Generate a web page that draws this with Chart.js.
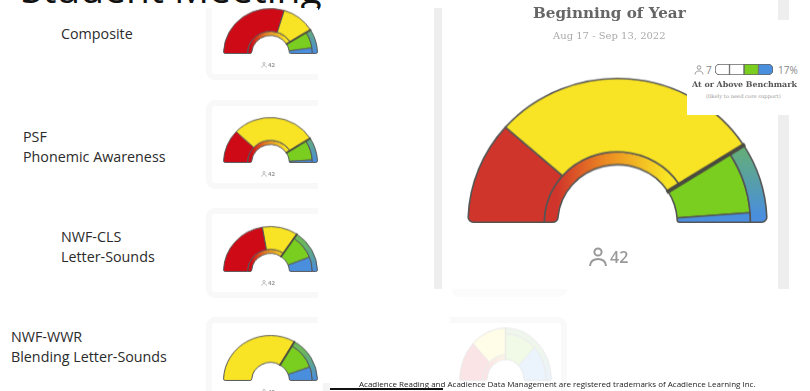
<!DOCTYPE html>
<html>
<head>
<meta charset="utf-8">
<script src="https://cdn.jsdelivr.net/npm/chart.js@4"></script>
<style>
    html, body { margin: 0; padding: 0; background: #fff; overflow: hidden; }
    #page { position: relative; width: 810px; height: 391px; overflow: hidden; font-family: 'Open Sans', sans-serif; color: #222; }
    .abs { position: absolute; white-space: nowrap; }
    .abs svg { display: block; }
    .card { position: absolute; box-sizing: border-box; background: #fff; border: 6px solid #f8f8f8; border-radius: 9px; }
    .label { font-size: 14.3px; line-height: 20px; color: #2b2b2b; }
    canvas { position: absolute; left: 0; top: 0; }
</style>
</head>
<body>
<div id="page"></div>
<script>
// Gauges in reading order: four small rows, the big one, the faded one
const gaugeNames = ['Composite', 'PSF', 'NWF-CLS', 'NWF-WWR', 'Beginning of Year', 'Faded'];
const redShare    = [59.5, 24, 44.5, 0, 23, 25];
const yellowShare = [23, 58, 24.5, 67, 59, 25];
const greenShare  = [13, 16, 19.3, 22, 15.6, 25];
const blueShare   = [4.5, 2, 11.7, 11, 2.4, 25];

const rowLabels = [['Composite'], ['PSF', 'Phonemic Awareness'], ['NWF-CLS', 'Letter-Sounds'], ['NWF-WWR', 'Blending Letter-Sounds']];
const studentCount = '42';
const legendSegments = [1, 1, 1, 1];
const legendColors = ['#ffffff', '#ffffff', '#7ace1f', '#4a8fde'];

// where each gauge goes: centre x, flat base y, radius, vertical squash
const gaugeBoxes = [
    { cx: 270, base: 53.5, r: 48, squash: 0.94, line: 1, sep: 1.8 },
    { cx: 270, base: 162.5, r: 48, squash: 0.94, line: 1, sep: 1.8 },
    { cx: 270, base: 271.5, r: 48, squash: 0.94, line: 1, sep: 1.8 },
    { cx: 270, base: 380.5, r: 48, squash: 0.94, line: 1, sep: 1.8 },
    { cx: 617.5, base: 222.5, r: 151, squash: 0.956, line: 1.6, sep: 4 },
    { cx: 505, base: 380, r: 47, squash: 1.12, line: 1, sep: 1.5 }
];

const page = document.getElementById('page');

function addBox(x, y, w, h, css) {
    const el = document.createElement('div');
    el.className = 'abs';
    el.style.cssText += `left:${x}px;top:${y}px;width:${w}px;height:${h}px;` + (css || '');
    page.appendChild(el);
    return el;
}

function addText(text, x, y, css) {
    const el = document.createElement('div');
    el.className = 'abs';
    el.textContent = text;
    el.style.cssText += `left:${x}px;top:${y}px;` + (css || '');
    page.appendChild(el);
    return el;
}

function addPerson(x, y, size, color, css) {
    const el = document.createElement('div');
    el.className = 'abs';
    el.style.cssText += `left:${x}px;top:${y}px;width:${size}px;height:${size}px;` + (css || '');
    el.innerHTML = `<svg viewBox="0 0 20 20" width="${size}" height="${size}" fill="none" stroke="${color}" stroke-width="2">` +
        '<circle cx="10" cy="5" r="3.6"/><path d="M2 19 C2 9.5 18 9.5 18 19"/></svg>';
    page.appendChild(el);
}

// dark line along the start of the benchmark wedge
const separatorPlugin = {
    id: 'separator',
    afterDatasetsDraw(chart, args, opts) {
        const outer = chart.getDatasetMeta(0).data[1];
        const inner = chart.getDatasetMeta(1).data[1];
        const a = outer.startAngle;
        const c = chart.ctx;
        c.save();
        c.strokeStyle = opts.color;
        c.lineWidth = opts.width;
        c.beginPath();
        c.moveTo(outer.x + Math.cos(a) * (inner.innerRadius - opts.width * 0.4), outer.y + Math.sin(a) * (inner.innerRadius - opts.width * 0.4));
        c.lineTo(outer.x + Math.cos(a) * (outer.outerRadius + opts.width * 0.4), outer.y + Math.sin(a) * (outer.outerRadius + opts.width * 0.4));
        c.stroke();
        c.restore();
    }
};

function leftGradient(ctx, redColor) {
    const area = ctx.chart.chartArea;
    if (!area) return 'transparent';
    const w = area.right - area.left;
    const g = ctx.chart.ctx.createLinearGradient(area.left + w * 0.3, 0, area.left + w * 0.66, 0);
    g.addColorStop(0, redColor);
    g.addColorStop(0.45, '#ec8a22');
    g.addColorStop(1, '#f8e324');
    return g;
}

function rightGradient(ctx) {
    const area = ctx.chart.chartArea;
    if (!area) return 'transparent';
    const h = area.bottom - area.top;
    const g = ctx.chart.ctx.createLinearGradient(0, area.top + h * 0.35, 0, area.top + h * 0.95);
    g.addColorStop(0, '#6cb85a');
    g.addColorStop(1, '#4a8fde');
    return g;
}

function gaugeOptions(extra) {
    return Object.assign({
        responsive: false,
        animation: false,
        rotation: -90,
        circumference: 180,
        cutout: '40%',
        layout: { padding: 3 },
        plugins: { legend: { display: false }, tooltip: { enabled: false } }
    }, extra);
}

function buildGauge(i, parent) {
    const box = gaugeBoxes[i];
    const red = redShare[i], yellow = yellowShare[i], green = greenShare[i], blue = blueShare[i];
    const below = red + yellow, above = green + blue;
    const edge = '#555555';
    const line = box.line;
    const round = box.r * 0.035;
    const redColor = i === 4 ? '#d0352b' : '#cf0a17';

    const wrap = document.createElement('div');
    wrap.className = 'abs';
    const w = 2 * box.r + 6 + line, h = box.r + 6 + line / 2;
    wrap.style.cssText += `left:${box.cx - w / 2}px;top:${box.base - h + 3}px;width:${w}px;height:${h}px;` +
        `transform-origin:50% ${h - 3}px;transform:scaleY(${box.squash});`;
    parent.appendChild(wrap);

    const makeCanvas = () => {
        const cv = document.createElement('canvas');
        cv.width = w; cv.height = h;
        cv.style.width = w + 'px';
        cv.style.height = h + 'px';
        wrap.appendChild(cv);
        return cv;
    };

    // left side: red and yellow band plus the thin gradient ring under it
    const backSets = [];
    const startCorner = { outerStart: round, innerStart: round, outerEnd: 0, innerEnd: 0 };
    const noCorner = 0;
    const hasRed = red > 0;
    backSets.push({
        data: [red, yellow, above],
        weight: hasRed ? 51 : 60,
        backgroundColor: [redColor, '#f8e324', 'transparent'],
        borderColor: [edge, edge, 'transparent'],
        borderWidth: [hasRed ? line : 0, line, 0],
        borderRadius: [hasRed ? { outerStart: round, innerStart: 0, outerEnd: 0, innerEnd: 0 } : noCorner, hasRed ? noCorner : startCorner, noCorner]
    });
    if (hasRed) {
        backSets.push({
            data: [below, above],
            weight: 9,
            backgroundColor: ctx => ctx.dataIndex === 0 ? leftGradient(ctx, redColor) : 'transparent',
            borderColor: [edge, 'transparent'],
            borderWidth: [line, 0],
            borderRadius: [{ outerStart: 0, innerStart: round, outerEnd: 0, innerEnd: 0 }, noCorner]
        });
    }
    new Chart(makeCanvas(), {
        type: 'doughnut',
        data: { labels: ['Red', 'Yellow', 'Above'], datasets: backSets },
        options: gaugeOptions()
    });

    // right side: green and blue band plus the thin gradient ring over it
    new Chart(makeCanvas(), {
        type: 'doughnut',
        data: {
            labels: ['Below', 'Green', 'Blue'],
            datasets: [
                {
                    data: [below, above],
                    weight: 11,
                    backgroundColor: ctx => ctx.dataIndex === 1 ? rightGradient(ctx) : 'transparent',
                    borderColor: ['transparent', edge],
                    borderWidth: [0, line],
                    borderRadius: [noCorner, { outerStart: 0, innerStart: 0, outerEnd: round, innerEnd: 0 }]
                },
                {
                    data: [below, green, blue],
                    weight: 49,
                    backgroundColor: ['transparent', '#7ace1f', '#4a8fde'],
                    borderColor: ['transparent', edge, edge],
                    borderWidth: [0, line, line],
                    borderRadius: [noCorner, noCorner, { outerStart: 0, innerStart: 0, outerEnd: 0, innerEnd: round }]
                }
            ]
        },
        options: gaugeOptions({
            plugins: {
                legend: { display: false },
                tooltip: { enabled: false },
                separator: { color: '#4a4a40', width: box.sep }
            }
        }),
        plugins: [separatorPlugin]
    });
}

// title, mostly off the top of the slide
addText('Student Meeting', 21, -39, "font-size:39px;line-height:54px;color:#111;");

// row labels
rowLabels.forEach((lines, i) => {
    const spots = [[61, 24], [23, 127], [61, 227], [11, 327]];
    const el = addText('', spots[i][0], spots[i][1]);
    el.className += ' label';
    el.innerHTML = lines.join('<br>');
});

// small cards, cut off at the white overlay on the right
const leftClip = addBox(0, 8, 318, 383, 'overflow:hidden;');
const cardTops = [-40, 92, 200, 309];
const cardHeights = [112, 89, 90, 120];
cardTops.forEach((top, i) => {
    const card = document.createElement('div');
    card.className = 'card';
    card.style.cssText = `left:206px;top:${top}px;width:160px;height:${cardHeights[i]}px;`;
    leftClip.appendChild(card);
});
const smallWrap = addBox(0, 0, 318, 391, 'overflow:hidden;clip-path:inset(8px 0 0 0);filter:blur(0.3px);');
[0, 1, 2, 3].forEach(i => buildGauge(i, smallWrap));
[0, 1, 2, 3].forEach(i => {
    const y = [62, 171, 280, 389][i];
    addPerson(261, y, 6, '#999', 'filter:blur(0.2px);');
    addText(studentCount, 268, y - 1.5, "font-size:6px;line-height:9px;font-weight:700;color:#999;");
});

// big gauge screenshot
addBox(434, 8, 8, 281, 'background:#eeeeee;');
addBox(778, 0, 11, 289, 'background:#eeeeee;');
addBox(452, 289, 115, 8, 'background:#fbfbfb;border-radius:0 0 9px 9px;');
const bigWrap = addBox(0, 0, 810, 391, 'filter:blur(0.5px);');
buildGauge(4, bigWrap);
addText(gaugeNames[4], 533, 3, "font-family:'DejaVu Serif',serif;font-weight:700;font-size:15.2px;line-height:20px;color:#666;filter:blur(0.6px);");
addText('Aug 17 - Sep 13, 2022', 553, 29, "font-family:'DejaVu Serif',serif;font-size:10px;line-height:14px;color:#aaa;filter:blur(0.6px);");
addPerson(588, 247, 20, '#999', 'filter:blur(0.5px);');
addText(studentCount, 610, 246, "font-size:16px;line-height:22px;font-weight:600;color:#999;filter:blur(0.5px);");

// legend patch sitting on top of the gauge
addBox(687, 47, 123, 68, 'background:#fff;');
addBox(778, 20, 32, 27, 'background:#fff;');
addPerson(694, 65, 10, '#999', 'filter:blur(0.2px);');
addText('7', 706, 63, "font-size:10px;line-height:14px;color:#888;");
addText('17%', 778, 63, "font-size:10px;line-height:14px;color:#888;");
addText('At or Above Benchmark', 692, 79, "font-family:'DejaVu Serif',serif;font-weight:700;font-size:7.9px;line-height:12px;color:#555;filter:blur(0.2px);");
addText('(likely to need core support)', 706, 92, "font-family:'DejaVu Serif',serif;font-size:5.2px;line-height:9px;color:#999;");

const pillWrap = addBox(714, 63, 60, 13);
const pillCanvas = document.createElement('canvas');
pillCanvas.width = 60; pillCanvas.height = 13;
pillWrap.appendChild(pillCanvas);
new Chart(pillCanvas, {
    type: 'bar',
    data: {
        labels: ['Benchmark'],
        datasets: legendSegments.map((v, i) => ({
            data: [v],
            backgroundColor: legendColors[i],
            borderColor: '#666666',
            borderWidth: 1,
            borderSkipped: false,
            barPercentage: 1,
            categoryPercentage: 1,
            borderRadius: i === 0 ? { topLeft: 5, bottomLeft: 5 } : i === legendSegments.length - 1 ? { topRight: 5, bottomRight: 5 } : 0
        }))
    },
    options: {
        indexAxis: 'y',
        responsive: false,
        animation: false,
        layout: { padding: 1 },
        scales: {
            x: { display: false, stacked: true, min: 0, max: legendSegments.length },
            y: { display: false, stacked: true }
        },
        plugins: { legend: { display: false }, tooltip: { enabled: false } }
    }
});

// faded card at the bottom
addBox(450, 317, 117, 90, 'box-sizing:border-box;border:6px solid #f9f9f9;border-left:none;border-radius:0 9px 0 0;');
const fadedWrap = addBox(0, 0, 810, 391, 'opacity:0.11;filter:blur(0.4px);');
buildGauge(5, fadedWrap);

// footer
addBox(323, 383, 7, 8, 'background:#f4f4f4;');
addBox(330, 388, 113, 2, 'background:#111;');
addText('Acadience Reading and Acadience Data Management are registered trademarks of Acadience Learning Inc.', 359, 378, "font-size:8px;line-height:11px;color:#222;");
</script>
</body>
</html>
